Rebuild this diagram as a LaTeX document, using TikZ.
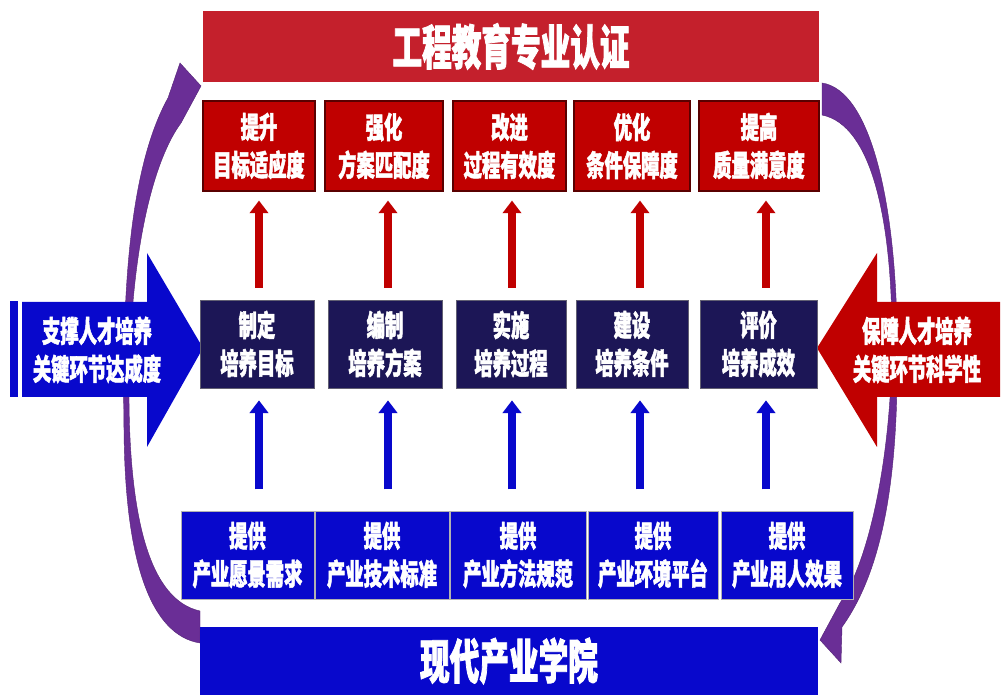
\documentclass[tikz,border=0pt]{standalone}
\usepackage{fontspec}
\setmainfont{Noto Sans CJK SC}[FakeStretch=0.62, BoldFeatures={FakeBold=1.6}]
\usetikzlibrary{arrows.meta}
\definecolor{titlered}{RGB}{196,32,44}
\definecolor{boxred}{RGB}{192,0,0}
\definecolor{edgered}{RGB}{90,0,0}
\definecolor{navy}{RGB}{28,22,86}
\definecolor{royal}{RGB}{8,8,204}
\definecolor{purp}{RGB}{106,46,150}
\tikzset{
  txt/.style={text=white, font=\fontsize{21}{27}\selectfont\bfseries, align=center, inner sep=0pt},
  redbox/.style={txt, fill=boxred, draw=edgered, line width=0.8pt, minimum height=2.25cm},
  navybox/.style={txt, fill=navy, draw=gray!70!navy, line width=0.6pt, minimum height=2.2cm},
  bluebox/.style={txt, fill=royal, draw=gray!60, line width=0.6pt, minimum height=2.2cm},
  banner/.style={text=white, font=\fontsize{34}{40}\selectfont\bfseries, inner sep=0pt},
  redup/.style={draw=boxred, line width=5.7pt, -{Triangle[width=13pt,length=9pt]}, shorten <=8.5pt, shorten >=6.4pt},
  blueup/.style={draw=royal, line width=5.7pt, -{Triangle[width=13pt,length=9pt]}, shorten <=15pt, shorten >=8.5pt},
  purparrow/.style={fill=purp, draw=purp!80!black, line width=0.3pt}
}
\begin{document}
\begin{tikzpicture}[x=0.025cm,y=-0.025cm]
\useasboundingbox (0,0) rectangle (1002,695);
\fill[white] (0,0) rectangle (1002,695);

% purple curved arrows
\path[purparrow] (200,643) .. controls (150,635) and (125,560) .. (124,430)
  .. controls (122,300) and (128,170) .. (168,98) -- (180,63) -- (201,86) -- (181,123)
  .. controls (157,155) and (129,240) .. (129,400)
  .. controls (130,520) and (150,600) .. (200,611) -- cycle;
\path[purparrow] (822,83) .. controls (870,90) and (895,200) .. (897,330)
  .. controls (899,450) and (890,560) .. (842,627) -- (841,663) -- (820,640) -- (840,603)
  .. controls (870,560) and (893,450) .. (892,330)
  .. controls (891,220) and (872,125) .. (822,115) -- cycle;

% banners
\node[banner, fill=titlered, minimum width=15.4cm, minimum height=1.775cm] (top) at (511,46.5) {工程教育专业认证};
\node[banner, fill=royal, minimum width=15.45cm, minimum height=1.7cm] (bottom) at (509,661) {现代产业学院};

% side arrows
\fill[royal] (10,301) rectangle (18,397);
\fill[royal] (22,302) -- (147,302) -- (147,253) -- (203,348) -- (147,447) -- (147,397) -- (22,397) -- cycle;
\node[txt] (left) at (97,350) {支撑人才培养\\关键环节达成度};
\fill[boxred] (1000,302) -- (877,302) -- (877,253) -- (817,348) -- (877,447) -- (877,397) -- (1000,397) -- cycle;
\node[txt] (right) at (917,350) {保障人才培养\\关键环节科学性};

% red boxes
\node[redbox, minimum width=2.8cm]   (r1) at (259,146)   {提升\\目标适应度};
\node[redbox, minimum width=2.95cm]  (r2) at (384,146)   {强化\\方案匹配度};
\node[redbox, minimum width=2.825cm] (r3) at (509.5,146) {改进\\过程有效度};
\node[redbox, minimum width=2.9cm]   (r4) at (632,146)   {优化\\条件保障度};
\node[redbox, minimum width=3.0cm]   (r5) at (759,146)   {提高\\质量满意度};

% navy boxes
\node[navybox, minimum width=2.85cm]  (n1) at (257,344)   {制定\\培养目标};
\node[navybox, minimum width=2.85cm]  (n2) at (385,344)   {编制\\培养方案};
\node[navybox, minimum width=2.75cm]  (n3) at (511,344)   {实施\\培养过程};
\node[navybox, minimum width=2.8cm]   (n4) at (632,344)   {建设\\培养条件};
\node[navybox, minimum width=2.925cm] (n5) at (758.5,344) {评价\\培养成效};

% blue boxes
\node[bluebox, minimum width=3.325cm] (b1) at (247.5,555) {提供\\产业愿景需求};
\node[bluebox, minimum width=3.35cm]  (b2) at (382,555)   {提供\\产业技术标准};
\node[bluebox, minimum width=3.4cm]   (b3) at (518,555)   {提供\\产业方法规范};
\node[bluebox, minimum width=3.25cm]  (b4) at (653,555)   {提供\\产业环境平台};
\node[bluebox, minimum width=3.3cm]   (b5) at (787,555)   {提供\\产业用人效果};

% arrow columns
\coordinate (ax1) at (259,0);
\coordinate (ax2) at (388,0);
\coordinate (ax3) at (512,0);
\coordinate (ax4) at (640,0);
\coordinate (ax5) at (766,0);
\foreach \i in {1,...,5}{
  \draw[redup] (n\i.north -| ax\i) -- (r\i.south -| ax\i);
  \draw[blueup] (b\i.north -| ax\i) -- (n\i.south -| ax\i);
}
\end{tikzpicture}
\end{document}
